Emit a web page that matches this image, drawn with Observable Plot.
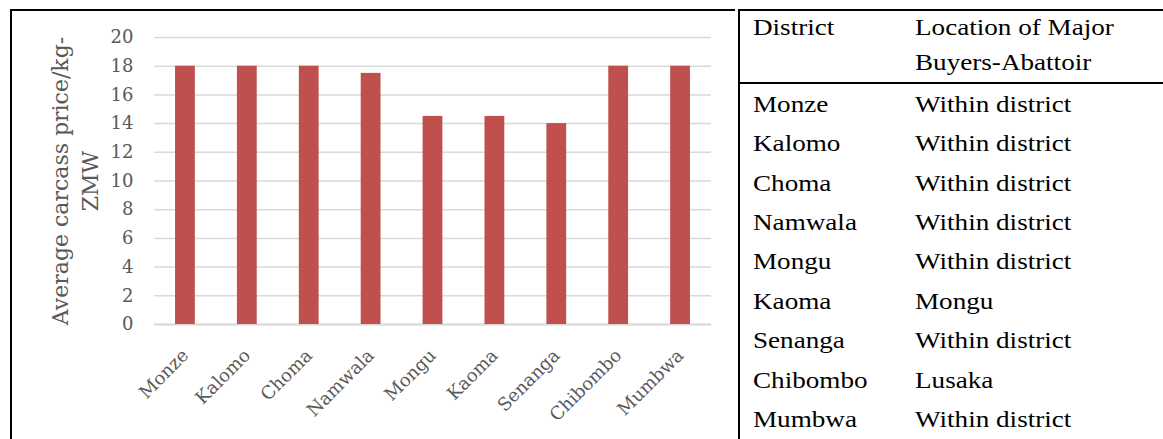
<!DOCTYPE html>
<html>
<head>
<meta charset="utf-8">
<script src="https://cdn.jsdelivr.net/npm/d3@7"></script>
<script src="https://cdn.jsdelivr.net/npm/@observablehq/plot@0.6"></script>
<style>
  html, body { margin: 0; padding: 0; background: #fff; }
  #page { position: relative; width: 1163px; height: 439px; overflow: hidden; }
  #frame { position: absolute; left: 10px; top: 9px; width: 725px; height: 440px;
           border-left: 2px solid #000; border-top: 2px solid #000; box-sizing: border-box; }
  #chart { position: absolute; left: 0; top: 0; }
  #table { position: absolute; left: 0; top: 0; }
</style>
</head>
<body>
<div id="page">
  <div id="frame"></div>
  <div id="chart"></div>
  <svg id="table" width="1163" height="439"></svg>
</div>
<script>
// Average carcass price per district (ZMW per kg)
const districts = ["Monze", "Kalomo", "Choma", "Namwala", "Mongu", "Kaoma", "Senanga", "Chibombo", "Mumbwa"];
const prices = [18, 18, 18, 17.5, 14.5, 14.5, 14, 18, 18];
const yTicks = [0, 2, 4, 6, 8, 10, 12, 14, 16, 18, 20];
const yTitle = "Average carcass price/kg-\nZMW";

// Companion table: where the major abattoir buyers are located
const tableHeadDistrict = "District";
const tableHeadLocation = ["Location of Major", "Buyers-Abattoir"];
const buyerLocations = ["Within district", "Within district", "Within district", "Within district",
  "Within district", "Mongu", "Within district", "Lusaka", "Within district"];

const data = districts.map((d, i) => ({district: d, price: prices[i]}));
const grey = "#595959";

const chart = Plot.plot({
  width: 740,
  height: 439,
  marginTop: 37,
  marginBottom: 115,
  marginLeft: 154,
  marginRight: 29,
  style: {fontFamily: "'DejaVu Serif', serif", fontSize: "18px", color: grey, background: "transparent", overflow: "visible"},
  x: {domain: districts, paddingInner: 0.68, paddingOuter: 0.34, round: false},
  y: {domain: [0, 20]},
  marks: [
    Plot.gridY(yTicks, {stroke: "#d9d9d9", strokeOpacity: 1, strokeWidth: 1.5}),
    Plot.ruleY([0], {stroke: "#d9d9d9", strokeWidth: 2}),
    Plot.barY(data, {x: "district", y: "price", fill: "#c0504d"}),
    Plot.axisY(yTicks, {tickSize: 0, tickPadding: 21, label: null, fill: grey, fontSize: 18}),
    Plot.axisX({tickRotate: -45, tickSize: 0, tickPadding: 28, dx: 0, label: null, fill: grey, fontSize: 18}),
    Plot.text([yTitle], {text: d => d, frameAnchor: "left", textAnchor: "middle", lineAnchor: "middle",
      rotate: -90, dx: -81, fontSize: 22, lineHeight: 1.36, fill: grey})
  ]
});
document.getElementById("chart").appendChild(chart);

// Table with ruled borders
const svg = d3.select("#table");
svg.append("line").attr("x1", 738).attr("x2", 1163).attr("y1", 10).attr("y2", 10).attr("stroke", "#000").attr("stroke-width", 2);
svg.append("line").attr("x1", 739).attr("x2", 739).attr("y1", 9).attr("y2", 439).attr("stroke", "#000").attr("stroke-width", 2);
svg.append("line").attr("x1", 738).attr("x2", 1163).attr("y1", 83).attr("y2", 83).attr("stroke", "#000").attr("stroke-width", 2);

const cell = (x, y, s) => svg.append("text")
  .attr("transform", `translate(${x},${y}) scale(1.18,1)`)
  .attr("font-family", "'Liberation Serif', 'Times New Roman', serif")
  .attr("font-size", 23)
  .attr("fill", "#000")
  .text(s);

const col1 = 753, col2 = 915;
cell(col1, 35, tableHeadDistrict);
cell(col2, 35, tableHeadLocation[0]);
cell(col2, 70, tableHeadLocation[1]);
districts.forEach((d, i) => {
  const y = 111.7 + i * 39.4;
  cell(col1, y, d);
  cell(col2, y, buyerLocations[i]);
});
</script>
</body>
</html>
